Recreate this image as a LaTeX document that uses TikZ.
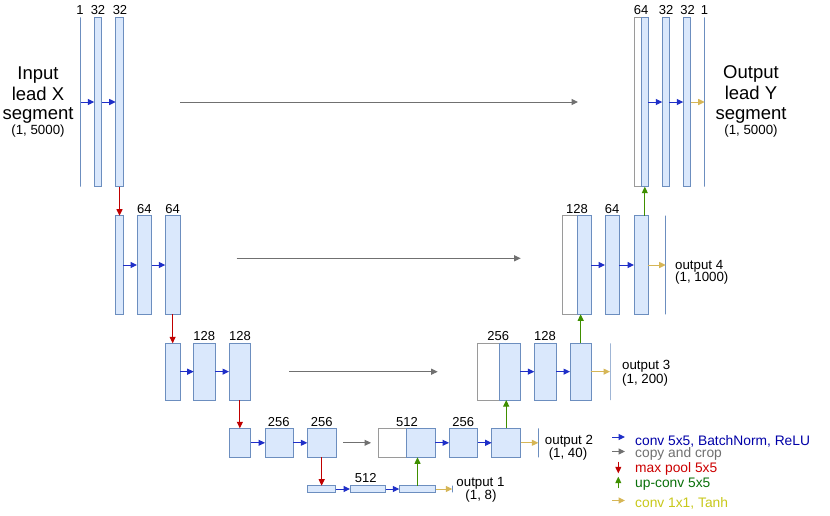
\documentclass[tikz,border=0pt]{standalone}
\usepackage{fontspec}
\setmainfont{Liberation Sans}
\usetikzlibrary{arrows.meta}
\definecolor{bfill}{HTML}{DAE8FC}
\definecolor{bdraw}{HTML}{6C8EBF}
\definecolor{wdraw}{HTML}{9A9A9A}
\definecolor{cblue}{HTML}{1F2FC8}
\definecolor{cgray}{HTML}{707070}
\definecolor{cred}{HTML}{C00000}
\definecolor{cgreen}{HTML}{3F8F00}
\definecolor{cyel}{HTML}{D6B656}
\definecolor{tblue}{HTML}{0000A8}
\definecolor{tgray}{HTML}{707070}
\definecolor{tred}{HTML}{CC0000}
\definecolor{tgreen}{HTML}{0A700A}
\definecolor{tyel}{HTML}{C8C81A}
\newcommand{\ublk}[6][]{%
  \pgfmathsetmacro\ublkw{#5-#3}%
  \pgfmathsetmacro\ublkh{#6-#4}%
  \pgfmathsetmacro\ublkx{(#3+#5)/2}%
  \pgfmathsetmacro\ublky{(#4+#6)/2}%
  \node[blk,minimum width=\ublkw pt,minimum height=\ublkh pt,#1] (#2) at (\ublkx,\ublky) {};}
\tikzset{
  blk/.style={draw=bdraw, fill=bfill, line width=1pt, inner sep=0pt, outer sep=0pt},
  wblk/.style={draw=wdraw, fill=white},
  outl/.style={draw=bdraw, fill=none, line width=0.9pt},
  lab/.style={font=\fontsize{13}{14}\selectfont, anchor=base, inner sep=0pt},
  txt/.style={font=\fontsize{13.3}{15}\selectfont, anchor=base, inner sep=0pt},
  big/.style={font=\fontsize{18.5}{20}\selectfont, anchor=base, inner sep=0pt},
  leg/.style={font=\fontsize{13.8}{15}\selectfont, anchor=base west, inner sep=0pt},
  tipped/.style={-{Triangle[length=6.5pt,width=6pt]}, line width=1pt},
  barr/.style={tipped, draw=cblue},
  garr/.style={tipped, draw=cgray},
  rarr/.style={tipped, draw=cred},
  grarr/.style={tipped, draw=cgreen},
  yarr/.style={tipped, draw=cyel},
}
\begin{document}
\begin{tikzpicture}[x=1pt,y=-1pt]
\useasboundingbox[fill=white] (0,0) rectangle (830,515);

% ---------- level 1 ----------
\ublk[outl]{inl}{80.5}{17.3}{80.5}{186.7}
\ublk{a1}{94.3}{17.3}{101.7}{186.7}
\ublk{a2}{115.7}{17.3}{123.3}{186.7}
\ublk[wblk]{r1w}{634}{17.3}{641.3}{186.7}
\ublk{r1b}{641.3}{17.3}{648.3}{186.7}
\ublk{r1c}{662.3}{17.3}{669.3}{186.7}
\ublk{r1d}{683.3}{17.3}{690.7}{186.7}
\ublk[outl]{out5}{704.7}{17.3}{704.7}{186.7}

% ---------- level 2 ----------
\ublk{b1}{115.7}{215.7}{123.3}{314.3}
\ublk{b2}{137}{215.7}{151.7}{314.3}
\ublk{b3}{165.3}{215.7}{180}{314.3}
\ublk[wblk]{r2w}{562.7}{215.7}{577.3}{314.3}
\ublk{r2b}{577.3}{215.7}{591.3}{314.3}
\ublk{r2c}{605}{215.7}{619.3}{314.3}
\ublk{r2d}{634}{215.7}{648.3}{314.3}
\ublk[outl]{out4}{665.7}{215.7}{665.7}{314.3}

% ---------- level 3 ----------
\ublk{c1}{165.7}{343.3}{180}{400}
\ublk{c2}{193.7}{343.3}{215}{400}
\ublk{c3}{229}{343.3}{250.7}{400}
\ublk[wblk]{r3w}{477.3}{343.3}{499.3}{400}
\ublk{r3b}{499.3}{343.3}{520.3}{400}
\ublk{r3c}{534.3}{343.3}{556}{400}
\ublk{r3d}{570}{343.3}{591.3}{400}
\ublk[outl]{out3}{610}{343.3}{610}{400}

% ---------- level 4 ----------
\ublk{d1}{229}{428.3}{250.7}{457.3}
\ublk{d2}{265}{428.3}{293.3}{457.3}
\ublk{d3}{307.3}{428.3}{336}{457.3}
\ublk[wblk]{r4w}{378.3}{428.3}{406.7}{457.3}
\ublk{r4b}{406.7}{428.3}{435}{457.3}
\ublk{r4c}{449}{428.3}{477.7}{457.3}
\ublk{r4d}{491.7}{428.3}{520.7}{457.3}
\ublk[outl]{out2}{538.3}{428.3}{538.3}{457.3}

% ---------- level 5 ----------
\ublk{e1}{307.3}{485.7}{335.7}{492.3}
\ublk{e2}{350}{485.7}{385.7}{492.3}
\ublk{e3}{399.3}{485.7}{435.7}{492.3}
\ublk[outl]{out1}{452.3}{485.7}{452.3}{492.3}

% ---------- channel labels ----------
\node[lab] (l1a) at (80,14) {1};
\node[lab] (l1b) at (98,14) {32};
\node[lab] (l1c) at (120,14) {32};
\node[lab] (l1d) at (641.2,14) {64};
\node[lab] (l1e) at (666,14) {32};
\node[lab] (l1f) at (687.5,14) {32};
\node[lab] (l1g) at (704.5,14) {1};
\node[lab] (l2a) at (144.3,213.3) {64};
\node[lab] (l2b) at (172.7,213.3) {64};
\node[lab] (l2c) at (577,213.3) {128};
\node[lab] (l2d) at (612,213.3) {64};
\node[lab] (l3a) at (204.3,340.7) {128};
\node[lab] (l3b) at (240,340.7) {128};
\node[lab] (l3c) at (498.3,340.7) {256};
\node[lab] (l3d) at (545,340.7) {128};
\node[lab] (l4a) at (278.7,426) {256};
\node[lab] (l4b) at (321.7,426) {256};
\node[lab] (l4c) at (407,426) {512};
\node[lab] (l4d) at (463.3,426) {256};
\node[lab] (l5a) at (365.7,482.3) {512};

% ---------- input / output texts ----------
\node[big] (in1) at (38,79.5) {Input};
\node[big] (in2) at (38,100) {lead X};
\node[big] (in3) at (38,119.5) {segment};
\node[txt] (in4) at (38,134.3) {(1, 5000)};
\node[big] (ou1) at (751,78) {Output};
\node[big] (ou2) at (751,99.5) {lead Y};
\node[big] (ou3) at (751,119.5) {segment};
\node[txt] (ou4) at (751,134.3) {(1, 5000)};

\node[txt,anchor=base west] (o4a) at (675,269) {output 4};
\node[txt,anchor=base west] (o4b) at (675,281.5) {(1, 1000)};
\node[txt,anchor=base west] (o3a) at (622,369.3) {output 3};
\node[txt,anchor=base west] (o3b) at (622,383) {(1, 200)};
\node[txt] (o2a) at (569,444) {output 2};
\node[txt] (o2b) at (568,457.3) {(1, 40)};
\node[txt] (o1a) at (480.5,486) {output 1};
\node[txt] (o1b) at (481,499.5) {(1, 8)};

% ---------- blue conv arrows ----------
\draw[barr] (inl.east) -- (a1.west);
\draw[barr] (a1.east) -- (a2.west);
\draw[barr] (r1b.east) -- (r1c.west);
\draw[barr] (r1c.east) -- (r1d.west);
\draw[barr] (b1.east) -- (b2.west);
\draw[barr] (b2.east) -- (b3.west);
\draw[barr] (r2b.east) -- (r2c.west);
\draw[barr] (r2c.east) -- (r2d.west);
\draw[barr] (c1.east) -- (c2.west);
\draw[barr] (c2.east) -- (c3.west);
\draw[barr] (r3b.east) -- (r3c.west);
\draw[barr] (r3c.east) -- (r3d.west);
\draw[barr] (d1.east) -- (d2.west);
\draw[barr] (d2.east) -- (d3.west);
\draw[barr] (r4b.east) -- (r4c.west);
\draw[barr] (r4c.east) -- (r4d.west);
\draw[barr] (e1.east) -- (e2.west);
\draw[barr] (e2.east) -- (e3.west);

% ---------- yellow 1x1 arrows ----------
\draw[yarr] (r1d.east) -- (out5.center);
\draw[yarr] (r2d.east) -- (out4.center);
\draw[yarr] (r3d.east) -- (out3.center);
\draw[yarr] (r4d.east) -- (out2.center);
\draw[yarr] (e3.east) -- (out1.center);

% ---------- gray copy arrows ----------
\coordinate (g1s) at (180,102);  \coordinate (g1e) at (578,102);
\coordinate (g2s) at (236.7,258.3); \coordinate (g2e) at (520.7,258.3);
\coordinate (g3s) at (289,371.7); \coordinate (g3e) at (437.7,371.7);
\coordinate (g4s) at (343.3,442.8); \coordinate (g4e) at (371,442.8);
\draw[garr] (g1s) -- (g1e);
\draw[garr] (g2s) -- (g2e);
\draw[garr] (g3s) -- (g3e);
\draw[garr] (g4s) -- (g4e);

% ---------- red max pool arrows ----------
\draw[rarr] (a2.south) -- (a2.south |- b1.north);
\draw[rarr] (b3.south) -- (b3.south |- c1.north);
\draw[rarr] (c3.south) -- (c3.south |- d1.north);
\draw[rarr] (d3.south) -- (d3.south |- e1.north);

% ---------- green up-conv arrows ----------
\draw[grarr] (e3.north) -- (e3.north |- r4b.south);
\draw[grarr] (r4d.north) -- (r4d.north |- r3b.south);
\draw[grarr] (r3d.north) -- (r3d.north |- r2b.south);
\draw[grarr] (r1b.south |- r2d.north) -- (r1b.south);

% ---------- legend ----------
\coordinate (lg1s) at (612.3,437); \coordinate (lg1e) at (625,437);
\coordinate (lg2s) at (612.3,451.5); \coordinate (lg2e) at (625,451.5);
\coordinate (lg3s) at (618.3,461.7); \coordinate (lg3e) at (618.3,473.3);
\coordinate (lg4s) at (618.3,488.3); \coordinate (lg4e) at (618.3,476.7);
\coordinate (lg5s) at (612.3,500.5); \coordinate (lg5e) at (625,500.5);
\draw[barr] (lg1s) -- (lg1e);
\draw[garr] (lg2s) -- (lg2e);
\draw[rarr] (lg3s) -- (lg3e);
\draw[grarr] (lg4s) -- (lg4e);
\draw[yarr] (lg5s) -- (lg5e);
\node[leg,text=tblue] (lt1) at (635,445) {conv 5x5, BatchNorm, ReLU};
\node[leg,text=tgray] (lt2) at (635,457.3) {copy and crop};
\node[leg,text=tred] (lt3) at (635,472.3) {max pool 5x5};
\node[leg,text=tgreen] (lt4) at (635,487.7) {up-conv 5x5};
\node[leg,text=tyel] (lt5) at (635,507.3) {conv 1x1, Tanh};
\end{tikzpicture}
\end{document}
